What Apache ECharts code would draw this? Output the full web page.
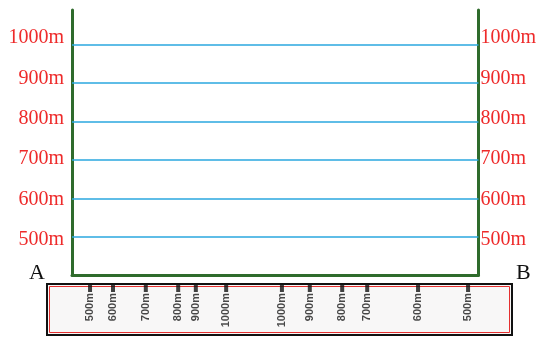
<!DOCTYPE html>
<html>
<head>
<meta charset="utf-8">
<script src="https://cdn.jsdelivr.net/npm/echarts@6/dist/echarts.min.js"></script>
<style>
  html, body { margin: 0; padding: 0; background: #fff; }
  #chart { width: 539px; height: 340px; }
</style>
</head>
<body>
<div id="chart"></div>
<script>
// contour heights (m) drawn as blue lines, labelled on both sides
const levels = [500, 600, 700, 800, 900, 1000];
// profile strip: position along A-B (0-100) and height label for each crossing
const crossPos = [4.4, 10.0, 18.0, 25.9, 30.2, 37.6, 51.2, 58.0, 65.9, 72.0, 84.4, 96.6];
const crossHeights = [500, 600, 700, 800, 900, 1000, 1000, 900, 800, 700, 600, 500];

const green = "#2f6b2c";
const red = "#ee2a2a";

const labelAxis = (pos, margin) => ({
    type: "value",
    gridIndex: 0,
    position: pos,
    min: 413,
    max: 1069,
    axisLine: { show: true, lineStyle: { color: green, width: 3 } },
    axisTick: { show: false },
    splitLine: { show: false },
    axisLabel: {
        customValues: levels,
        formatter: (v) => v + "m",
        color: red,
        fontFamily: "Liberation Serif",
        fontSize: 20,
        margin: margin,
    },
});

const chart = echarts.init(document.getElementById("chart"));
const option = {
    animation: false,
    backgroundColor: "#fff",
    grid: [
        { left: 72, right: 57, top: 10, bottom: 65 },
        { left: 47, right: 27, top: 284, bottom: 5, show: true, borderColor: "#111", borderWidth: 2, backgroundColor: "#f8f7f7" },
        { left: 49.5, right: 29.5, top: 286.5, bottom: 7.5, show: true, borderColor: "#e53030", borderWidth: 1, backgroundColor: "transparent" },
        { left: 72, right: 57, top: 283, height: 9 },
    ],
    xAxis: [
        {
            type: "value", gridIndex: 0, min: 0, max: 100,
            axisLine: { show: true, onZero: false, lineStyle: { color: green, width: 3 } },
            axisTick: { show: false }, axisLabel: { show: false }, splitLine: { show: false },
        },
        { type: "value", gridIndex: 1, show: false },
        { type: "value", gridIndex: 2, show: false },
        { type: "value", gridIndex: 3, min: 0, max: 100, show: false },
    ],
    yAxis: [
        labelAxis("left", 8),
        labelAxis("right", 2),
        { type: "value", gridIndex: 0, min: 400, max: 1091, show: false },
        { type: "value", gridIndex: 1, show: false },
        { type: "value", gridIndex: 2, show: false },
        { type: "value", gridIndex: 3, min: 0, max: 1, show: false },
    ],
    series: [
        {
            type: "line",
            xAxisIndex: 0,
            yAxisIndex: 2,
            data: [],
            silent: true,
            markLine: {
                silent: true,
                symbol: "none",
                label: { show: false },
                lineStyle: { color: "#2aa7df", width: 1.5, type: "solid" },
                data: levels.map((v) => ({ yAxis: v })),
            },
        },
        {
            type: "scatter",
            xAxisIndex: 3,
            yAxisIndex: 5,
            symbol: "rect",
            symbolSize: [4, 9],
            itemStyle: { color: "#111" },
            data: crossPos.map((x, i) => [x, 0.5, crossHeights[i]]),
            label: {
                show: true,
                position: "bottom",
                distance: 1,
                rotate: 90,
                align: "right",
                verticalAlign: "middle",
                formatter: (p) => p.value[2] + "m",
                color: "#1a1a1a",
                fontFamily: "Liberation Sans",
                fontWeight: "bold",
                fontSize: 11,
            },
        },
    ],
    graphic: [
        { type: "text", left: 29, top: 262, style: { text: "A", font: '22px "Liberation Serif"', fill: "#111" } },
        { type: "text", left: 516, top: 262, style: { text: "B", font: '22px "Liberation Serif"', fill: "#111" } },
    ],
};
chart.setOption(option);
</script>
</body>
</html>
